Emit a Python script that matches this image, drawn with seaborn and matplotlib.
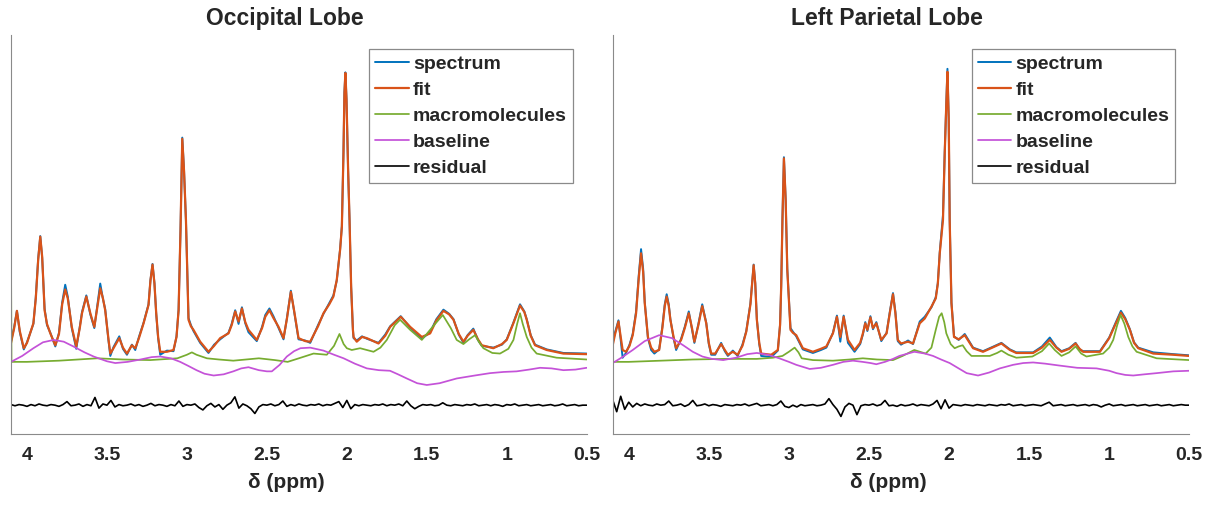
import matplotlib
matplotlib.use("Agg")
import matplotlib.pyplot as plt
import matplotlib.ticker as mticker
import numpy as np
import seaborn as sns

# ---------------- Occipital lobe ----------------
occ_ppm = [4.10, 4.08, 4.063, 4.045, 4.02, 4.00, 3.96, 3.945, 3.93, 3.917,
           3.905, 3.89, 3.875, 3.854, 3.823, 3.80, 3.78, 3.761, 3.745, 3.72,
           3.692, 3.67, 3.656, 3.629, 3.604, 3.579, 3.56, 3.542, 3.525, 3.511,
           3.49, 3.479, 3.459, 3.423, 3.40, 3.375, 3.344, 3.323, 3.30, 3.271,
           3.24, 3.228, 3.215, 3.203, 3.192, 3.18, 3.167, 3.125, 3.084, 3.065,
           3.052, 3.04, 3.029, 3.018, 3.006, 2.99, 2.975, 2.959, 2.917, 2.865,
           2.83, 2.792, 2.74, 2.72, 2.698, 2.677, 2.656, 2.635, 2.615, 2.563,
           2.53, 2.51, 2.484, 2.459, 2.427, 2.396, 2.375, 2.35, 2.33, 2.302,
           2.26, 2.229, 2.18, 2.146, 2.11, 2.084, 2.063, 2.042, 2.031, 2.021,
           2.015, 2.009, 2.002, 1.992, 1.983, 1.973, 1.962, 1.958, 1.938, 1.905,
           1.875, 1.802, 1.76, 1.729, 1.663, 1.604, 1.531, 1.479, 1.44, 1.396,
           1.36, 1.333, 1.30, 1.271, 1.245, 1.209, 1.18, 1.156, 1.084, 1.03,
           1.00, 0.96, 0.917, 0.89, 0.875, 0.85, 0.823, 0.75, 0.646, 0.50]
occ_fit = [1.30, 1.55, 1.84, 1.50, 1.21, 1.30, 1.63, 2.05, 2.70, 3.09,
           2.75, 1.85, 1.62, 1.46, 1.26, 1.45, 1.95, 2.20, 2.05, 1.57,
           1.24, 1.55, 1.80, 2.08, 1.80, 1.57, 1.90, 2.22, 2.05, 1.85,
           1.35, 1.12, 1.21, 1.38, 1.22, 1.12, 1.26, 1.21, 1.38, 1.63,
           1.94, 2.35, 2.62, 2.30, 1.80, 1.40, 1.15, 1.15, 1.18, 1.40,
           1.85, 3.20, 4.74, 4.20, 3.37, 1.69, 1.58, 1.52, 1.32, 1.15,
           1.25, 1.38, 1.46, 1.60, 1.83, 1.66, 1.88, 1.65, 1.52, 1.35,
           1.55, 1.74, 1.85, 1.72, 1.57, 1.38, 1.70, 2.16, 1.85, 1.38,
           1.33, 1.32, 1.58, 1.80, 1.95, 2.08, 2.36, 2.87, 3.26, 4.50,
           5.51, 5.85, 5.40, 4.22, 3.37, 2.25, 1.52, 1.40, 1.32, 1.40,
           1.38, 1.29, 1.42, 1.57, 1.74, 1.57, 1.40, 1.46, 1.68, 1.84,
           1.78, 1.69, 1.45, 1.32, 1.42, 1.52, 1.36, 1.26, 1.21, 1.28,
           1.35, 1.62, 1.93, 1.82, 1.69, 1.42, 1.26, 1.18, 1.12, 1.11]
occ_spec = [1.32, 1.57, 1.84, 1.48, 1.19, 1.31, 1.62, 2.07, 2.72, 3.10,
            2.73, 1.88, 1.60, 1.47, 1.24, 1.47, 1.98, 2.28, 2.08, 1.55,
            1.20, 1.57, 1.82, 2.10, 1.78, 1.55, 1.93, 2.30, 2.04, 1.87,
            1.33, 1.08, 1.23, 1.41, 1.20, 1.10, 1.27, 1.18, 1.40, 1.64,
            1.95, 2.36, 2.63, 2.31, 1.79, 1.38, 1.10, 1.17, 1.16, 1.41,
            1.86, 3.21, 4.76, 4.21, 3.36, 1.72, 1.60, 1.50, 1.30, 1.13,
            1.27, 1.36, 1.47, 1.62, 1.85, 1.62, 1.90, 1.63, 1.48, 1.33,
            1.57, 1.77, 1.88, 1.75, 1.55, 1.36, 1.71, 2.18, 1.84, 1.36,
            1.34, 1.30, 1.60, 1.79, 1.97, 2.10, 2.35, 2.88, 3.27, 4.51,
            5.53, 5.86, 5.41, 4.21, 3.36, 2.24, 1.53, 1.38, 1.34, 1.41,
            1.37, 1.30, 1.44, 1.58, 1.75, 1.56, 1.37, 1.48, 1.70, 1.86,
            1.79, 1.70, 1.44, 1.30, 1.43, 1.54, 1.35, 1.25, 1.22, 1.27,
            1.36, 1.63, 1.95, 1.83, 1.70, 1.43, 1.27, 1.19, 1.13, 1.12]

occ_mm_ppm = [4.100, 4.097, 4.00, 3.80, 3.56, 3.40, 3.23, 3.06, 3.00, 2.969,
              2.94, 2.875, 2.80, 2.71, 2.55, 2.45, 2.37, 2.30, 2.208, 2.125,
              2.08, 2.046, 2.02, 2.00, 1.969, 1.917, 1.833, 1.79, 1.75, 1.70,
              1.667, 1.604, 1.531, 1.47, 1.40, 1.35, 1.313, 1.271, 1.235, 1.198,
              1.17, 1.146, 1.09, 1.042, 0.99, 0.958, 0.935, 0.917, 0.90, 0.875,
              0.845, 0.813, 0.688, 0.50]
occ_mm = [2.78, 0.98, 0.98, 1.00, 1.04, 1.02, 1.01, 1.04, 1.10, 1.14,
          1.10, 1.04, 1.02, 1.00, 1.04, 1.01, 0.98, 1.04, 1.12, 1.10,
          1.25, 1.45, 1.28, 1.21, 1.18, 1.21, 1.15, 1.22, 1.35, 1.60,
          1.69, 1.52, 1.35, 1.55, 1.77, 1.55, 1.35, 1.28, 1.36, 1.43,
          1.30, 1.21, 1.13, 1.12, 1.20, 1.35, 1.62, 1.80, 1.62, 1.40,
          1.22, 1.12, 1.05, 1.02]

occ_base_ppm = [4.10, 4.03, 3.96, 3.90, 3.833, 3.77, 3.71, 3.64, 3.583, 3.50,
                3.448, 3.37, 3.29, 3.22, 3.167, 3.10, 3.042, 2.99, 2.94, 2.89,
                2.833, 2.77, 2.71, 2.66, 2.615, 2.55, 2.50, 2.469, 2.42, 2.375,
                2.33, 2.29, 2.229, 2.146, 2.08, 2.02, 1.95, 1.875, 1.80, 1.73,
                1.68, 1.625, 1.56, 1.50, 1.42, 1.313, 1.20, 1.104, 1.02, 0.938,
                0.86, 0.792, 0.72, 0.646, 0.57, 0.50]
occ_base = [0.98, 1.08, 1.21, 1.31, 1.35, 1.32, 1.24, 1.14, 1.07, 0.99,
            0.96, 0.98, 1.02, 1.06, 1.07, 1.04, 0.98, 0.91, 0.84, 0.78,
            0.75, 0.77, 0.82, 0.87, 0.89, 0.84, 0.82, 0.82, 0.93, 1.07,
            1.16, 1.21, 1.22, 1.17, 1.10, 1.04, 0.95, 0.87, 0.84, 0.83,
            0.77, 0.70, 0.62, 0.59, 0.62, 0.70, 0.75, 0.79, 0.81, 0.82,
            0.85, 0.88, 0.87, 0.84, 0.85, 0.88]

occ_resid = [0.26, 0.24, 0.26, 0.25, 0.23, 0.26, 0.24, 0.27, 0.25, 0.24,
             0.26, 0.25, 0.23, 0.26, 0.31, 0.24, 0.25, 0.27, 0.23, 0.26,
             0.24, 0.38, 0.20, 0.27, 0.25, 0.33, 0.22, 0.26, 0.24, 0.25,
             0.27, 0.24, 0.26, 0.23, 0.25, 0.28, 0.24, 0.26, 0.25, 0.23,
             0.26, 0.24, 0.32, 0.23, 0.26, 0.25, 0.27, 0.21, 0.17, 0.24,
             0.28, 0.22, 0.26, 0.18, 0.25, 0.29, 0.39, 0.20, 0.27, 0.24,
             0.19, 0.11, 0.22, 0.26, 0.25, 0.27, 0.24, 0.26, 0.32, 0.23,
             0.26, 0.24, 0.27, 0.25, 0.24, 0.26, 0.25, 0.27, 0.24, 0.26,
             0.25, 0.28, 0.31, 0.21, 0.33, 0.19, 0.26, 0.24, 0.26, 0.25,
             0.24, 0.26, 0.25, 0.27, 0.24, 0.26, 0.25, 0.27, 0.24, 0.32,
             0.24, 0.19, 0.23, 0.26, 0.25, 0.26, 0.24, 0.25, 0.29, 0.25,
             0.24, 0.26, 0.25, 0.24, 0.26, 0.25, 0.27, 0.24, 0.25, 0.26,
             0.24, 0.26, 0.25, 0.23, 0.26, 0.25, 0.27, 0.24, 0.25, 0.26,
             0.24, 0.25, 0.26, 0.24, 0.25, 0.26, 0.24, 0.25, 0.27, 0.24,
             0.25, 0.26, 0.24, 0.25, 0.25]

# ---------------- Left parietal lobe ----------------
par_ppm = [4.10, 4.085, 4.064, 4.05, 4.038, 4.017, 3.995, 3.975, 3.954, 3.937,
           3.923, 3.91, 3.90, 3.88, 3.86, 3.84, 3.81, 3.79, 3.775, 3.763,
           3.75, 3.74, 3.72, 3.704, 3.673, 3.65, 3.625, 3.605, 3.59, 3.565,
           3.541, 3.516, 3.50, 3.485, 3.46, 3.423, 3.40, 3.381, 3.35, 3.32,
           3.29, 3.266, 3.24, 3.22, 3.21, 3.20, 3.185, 3.173, 3.11, 3.069,
           3.055, 3.048, 3.04, 3.031, 3.02, 3.01, 2.99, 2.975, 2.954, 2.913,
           2.85, 2.80, 2.766, 2.725, 2.70, 2.679, 2.658, 2.631, 2.59, 2.555,
           2.538, 2.523, 2.51, 2.491, 2.475, 2.454, 2.423, 2.39, 2.37, 2.35,
           2.335, 2.32, 2.30, 2.256, 2.225, 2.183, 2.152, 2.11, 2.083, 2.07,
           2.058, 2.038, 2.027, 2.017, 2.01, 2.002, 1.996, 1.985, 1.969, 1.94,
           1.902, 1.85, 1.788, 1.73, 1.673, 1.62, 1.58, 1.475, 1.42, 1.371,
           1.33, 1.298, 1.25, 1.21, 1.185, 1.163, 1.058, 1.00, 0.96, 0.927,
           0.90, 0.871, 0.845, 0.819, 0.725, 0.60, 0.50]
par_fit = [1.26, 1.45, 1.66, 1.40, 1.18, 1.15, 1.25, 1.43, 1.80, 2.40,
           2.81, 2.50, 1.97, 1.40, 1.22, 1.15, 1.18, 1.55, 1.92, 2.08,
           1.92, 1.69, 1.40, 1.21, 1.35, 1.55, 1.80, 1.55, 1.32, 1.60,
           1.92, 1.63, 1.30, 1.12, 1.12, 1.28, 1.18, 1.10, 1.15, 1.10,
           1.25, 1.49, 1.95, 2.61, 2.30, 1.69, 1.30, 1.12, 1.10, 1.18,
           1.60, 2.25, 3.40, 4.41, 3.70, 2.53, 1.52, 1.47, 1.43, 1.21,
           1.15, 1.20, 1.24, 1.46, 1.74, 1.40, 1.74, 1.35, 1.18, 1.30,
           1.46, 1.63, 1.52, 1.73, 1.55, 1.63, 1.35, 1.46, 1.80, 2.12,
           1.80, 1.35, 1.29, 1.32, 1.29, 1.63, 1.71, 1.91, 2.05, 2.30,
           2.81, 3.37, 4.50, 5.34, 5.87, 5.06, 3.37, 1.97, 1.40, 1.36,
           1.43, 1.21, 1.15, 1.22, 1.29, 1.18, 1.13, 1.13, 1.22, 1.35,
           1.22, 1.15, 1.20, 1.29, 1.20, 1.15, 1.15, 1.38, 1.62, 1.81,
           1.70, 1.52, 1.30, 1.21, 1.12, 1.10, 1.08]
par_spec = [1.30, 1.48, 1.68, 1.35, 1.05, 1.13, 1.27, 1.45, 1.83, 2.45,
            2.88, 2.55, 1.99, 1.38, 1.18, 1.12, 1.19, 1.57, 1.95, 2.12,
            1.95, 1.70, 1.38, 1.18, 1.37, 1.57, 1.83, 1.53, 1.30, 1.62,
            1.95, 1.64, 1.28, 1.10, 1.10, 1.30, 1.16, 1.08, 1.17, 1.08,
            1.27, 1.50, 1.97, 2.62, 2.31, 1.70, 1.28, 1.08, 1.06, 1.17,
            1.61, 2.26, 3.41, 4.43, 3.71, 2.55, 1.55, 1.49, 1.41, 1.19,
            1.13, 1.18, 1.22, 1.47, 1.76, 1.32, 1.76, 1.30, 1.15, 1.28,
            1.44, 1.65, 1.50, 1.75, 1.53, 1.65, 1.33, 1.47, 1.82, 2.14,
            1.82, 1.33, 1.27, 1.34, 1.28, 1.66, 1.74, 1.90, 2.07, 2.31,
            2.83, 3.45, 4.52, 5.36, 5.92, 5.07, 3.38, 1.98, 1.41, 1.35,
            1.45, 1.22, 1.16, 1.23, 1.30, 1.19, 1.14, 1.14, 1.24, 1.39,
            1.23, 1.16, 1.21, 1.30, 1.19, 1.16, 1.16, 1.39, 1.64, 1.84,
            1.72, 1.53, 1.31, 1.22, 1.14, 1.11, 1.09]

par_mm_ppm = [4.100, 4.097, 4.00, 3.80, 3.60, 3.40, 3.20, 3.10, 3.04, 3.00,
              2.964, 2.94, 2.92, 2.85, 2.725, 2.62, 2.538, 2.45, 2.35, 2.29,
              2.217, 2.17, 2.146, 2.11, 2.083, 2.062, 2.046, 2.03, 2.017, 1.99,
              1.965, 1.94, 1.915, 1.89, 1.86, 1.746, 1.70, 1.673, 1.63, 1.58,
              1.48, 1.42, 1.375, 1.34, 1.298, 1.25, 1.21, 1.175, 1.142, 1.038,
              1.00, 0.975, 0.95, 0.929, 0.905, 0.881, 0.855, 0.829, 0.704, 0.50]
par_mm = [2.02, 0.98, 0.98, 1.00, 1.02, 1.03, 1.03, 1.05, 1.08, 1.15,
          1.22, 1.14, 1.04, 1.01, 1.00, 1.02, 1.04, 1.02, 1.01, 1.08,
          1.18, 1.14, 1.12, 1.22, 1.52, 1.74, 1.80, 1.65, 1.46, 1.28,
          1.21, 1.24, 1.26, 1.16, 1.08, 1.08, 1.13, 1.17, 1.10, 1.05,
          1.07, 1.16, 1.29, 1.18, 1.08, 1.14, 1.24, 1.12, 1.07, 1.12,
          1.22, 1.35, 1.60, 1.77, 1.62, 1.40, 1.24, 1.15, 1.04, 1.01]

par_base_ppm = [4.10, 4.04, 3.975, 3.90, 3.81, 3.73, 3.66, 3.60, 3.54, 3.48,
                3.41, 3.33, 3.26, 3.20, 3.13, 3.06, 3.00, 2.954, 2.87, 2.80,
                2.725, 2.66, 2.60, 2.54, 2.49, 2.454, 2.40, 2.35, 2.31, 2.217,
                2.15, 2.10, 2.05, 1.996, 1.94, 1.89, 1.819, 1.75, 1.683, 1.60,
                1.537, 1.475, 1.40, 1.317, 1.20, 1.079, 1.00, 0.954, 0.90, 0.85,
                0.78, 0.704, 0.60, 0.50]
par_base = [0.96, 1.06, 1.18, 1.33, 1.43, 1.38, 1.26, 1.15, 1.07, 1.03,
            1.01, 1.05, 1.11, 1.13, 1.10, 1.04, 0.98, 0.93, 0.86, 0.88,
            0.93, 0.98, 1.00, 0.98, 0.96, 0.94, 0.98, 1.03, 1.08, 1.15,
            1.12, 1.08, 1.02, 0.96, 0.87, 0.79, 0.75, 0.80, 0.87, 0.93,
            0.96, 0.97, 0.95, 0.92, 0.88, 0.87, 0.83, 0.79, 0.76, 0.75,
            0.77, 0.79, 0.82, 0.83]

par_resid = [0.34, 0.14, 0.40, 0.18, 0.30, 0.22, 0.28, 0.24, 0.27, 0.25,
             0.24, 0.27, 0.25, 0.26, 0.32, 0.24, 0.25, 0.27, 0.23, 0.26,
             0.33, 0.24, 0.25, 0.27, 0.24, 0.26, 0.25, 0.23, 0.26, 0.25,
             0.24, 0.26, 0.25, 0.27, 0.24, 0.26, 0.28, 0.24, 0.25, 0.26,
             0.24, 0.26, 0.32, 0.23, 0.21, 0.25, 0.22, 0.26, 0.24, 0.25,
             0.26, 0.24, 0.25, 0.27, 0.36, 0.26, 0.18, 0.06, 0.22, 0.28,
             0.25, 0.09, 0.24, 0.26, 0.25, 0.27, 0.24, 0.26, 0.33, 0.24,
             0.25, 0.23, 0.26, 0.24, 0.25, 0.27, 0.24, 0.26, 0.25, 0.24,
             0.27, 0.33, 0.19, 0.34, 0.20, 0.26, 0.25, 0.24, 0.26, 0.25,
             0.24, 0.26, 0.25, 0.24, 0.26, 0.25, 0.24, 0.26, 0.25, 0.27,
             0.24, 0.25, 0.26, 0.24, 0.25, 0.26, 0.25, 0.24, 0.27, 0.30,
             0.24, 0.25, 0.26, 0.24, 0.25, 0.26, 0.24, 0.25, 0.26, 0.24,
             0.26, 0.25, 0.22, 0.25, 0.27, 0.24, 0.25, 0.26, 0.24, 0.25,
             0.26, 0.24, 0.25, 0.26, 0.24, 0.25, 0.26, 0.24, 0.25, 0.26,
             0.24, 0.25, 0.26, 0.25, 0.25]

# residual is sampled on a regular ppm grid from 4.1 down to 0.5
resid_ppm = np.linspace(4.1, 0.5, len(occ_resid))

titles = ["Occipital Lobe", "Left Parietal Lobe"]
x_ticks = [4, 3.5, 3, 2.5, 2, 1.5, 1, 0.5]

colors = {
    "spectrum": "#0072BD",
    "fit": "#D95319",
    "macromolecules": "#77AC30",
    "baseline": "#C452D8",
    "residual": "#000000",
}

sns.set_theme(style="white")
plt.rcParams["font.family"] = ["Liberation Sans", "DejaVu Sans"]
plt.rcParams["font.weight"] = "bold"

fig = plt.figure(figsize=(12.12, 5.07), dpi=100)
ax_occ = fig.add_axes([11 / 1212, 73 / 507, 575.7 / 1212, 399 / 507])
ax_par = fig.add_axes([612.7 / 1212, 73 / 507, 576.6 / 1212, 399 / 507])

panels = [
    (ax_occ, occ_ppm, occ_spec, occ_fit, occ_mm_ppm, occ_mm, occ_base_ppm, occ_base, occ_resid),
    (ax_par, par_ppm, par_spec, par_fit, par_mm_ppm, par_mm, par_base_ppm, par_base, par_resid),
]

gray = "#8a8a8a"
for ax, ppm, spec, fit, mm_ppm, mm, base_ppm, base, resid in panels:
    sns.lineplot(x=ppm, y=spec, ax=ax, color=colors["spectrum"], lw=1.4,
                 sort=False, estimator=None, label="spectrum")
    sns.lineplot(x=ppm, y=fit, ax=ax, color=colors["fit"], lw=1.6,
                 sort=False, estimator=None, label="fit")
    sns.lineplot(x=mm_ppm, y=mm, ax=ax, color=colors["macromolecules"], lw=1.25,
                 sort=False, estimator=None, label="macromolecules")
    sns.lineplot(x=base_ppm, y=base, ax=ax, color=colors["baseline"], lw=1.25,
                 sort=False, estimator=None, label="baseline")
    sns.lineplot(x=resid_ppm, y=resid, ax=ax, color=colors["residual"], lw=1.2,
                 sort=False, estimator=None, label="residual")

    ax.set_xlim(4.1, 0.5)
    ax.set_ylim(-0.236, 6.49)
    ax.set_xticks(x_ticks)
    ax.xaxis.set_major_formatter(mticker.FuncFormatter(lambda v, p: f"{v:g}"))
    ax.set_yticks(range(7))
    ax.set_yticklabels([])
    ax.set_xlabel("")
    ax.set_ylabel("")
    ax.tick_params(axis="x", direction="in", length=4.5, width=0.8, color=gray,
                   labelsize=14, pad=9, labelcolor="#262626")
    ax.tick_params(axis="y", direction="in", length=4.8, width=0.8, color=gray)
    for lab in ax.get_xticklabels():
        lab.set_fontweight("bold")
    sns.despine(ax=ax)
    for side in ["left", "bottom"]:
        ax.spines[side].set_color(gray)
        ax.spines[side].set_linewidth(0.8)

    leg = ax.legend(loc="upper right", bbox_to_anchor=(0.976, 0.964), borderaxespad=0,
                    fontsize=14, handlelength=1.72, handletextpad=0.2, borderpad=0.32,
                    labelspacing=0.43, frameon=True, fancybox=False, framealpha=1)
    leg.get_frame().set_edgecolor(gray)
    leg.get_frame().set_linewidth(0.9)
    for t in leg.get_texts():
        t.set_fontweight("bold")

fig.text(285 / 1212, 1 - 18.5 / 507, titles[0], ha="center", va="center",
         fontsize=16.5, fontweight="bold")
fig.text(887 / 1212, 1 - 18.5 / 507, titles[1], ha="center", va="center",
         fontsize=16.5, fontweight="bold")
fig.text(286 / 1212, 1 - 482 / 507, "δ (ppm)", ha="center", va="center",
         fontsize=15, fontweight="bold", color="#262626")
fig.text(888 / 1212, 1 - 482 / 507, "δ (ppm)", ha="center", va="center",
         fontsize=15, fontweight="bold", color="#262626")

fig.savefig("out.png", dpi=100)
